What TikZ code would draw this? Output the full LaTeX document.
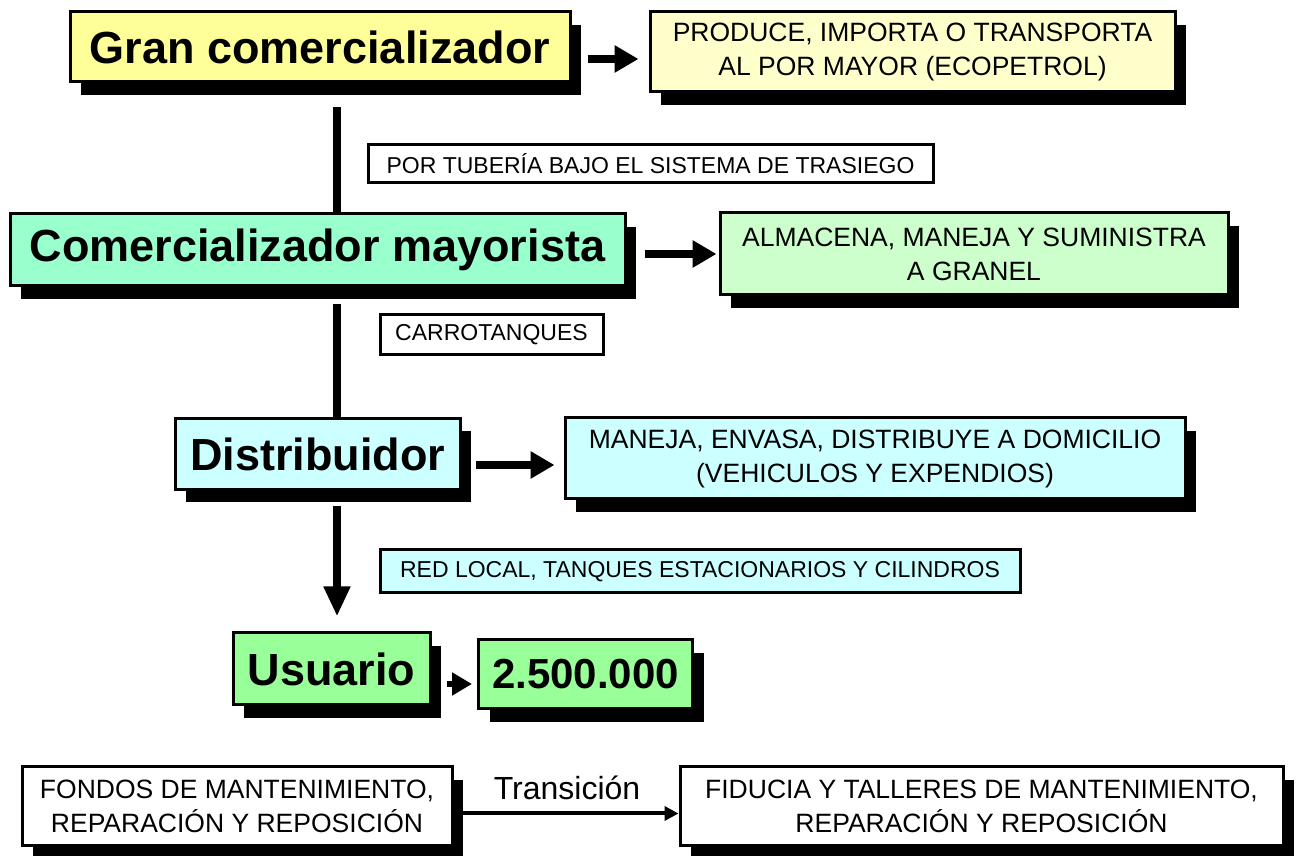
\documentclass[tikz,border=0pt]{standalone}
\usepackage{fontspec}
\setmainfont{Liberation Sans}
\usetikzlibrary{arrows.meta,shadows,calc}
\definecolor{cyellow}{HTML}{FFFF99}
\definecolor{ccream}{HTML}{FFFFCC}
\definecolor{cmint}{HTML}{99FFCC}
\definecolor{cpalegreen}{HTML}{CCFFCC}
\definecolor{ccyan}{HTML}{CCFFFF}
\definecolor{cgreen}{HTML}{99FF99}
\begin{document}
\begin{tikzpicture}[x=1pt,y=1pt,
  box/.style={draw=black, line width=3pt, inner sep=0pt, align=center,
    drop shadow={shadow xshift=11pt, shadow yshift=-13pt, fill=black, opacity=1}},
  big/.style={font=\bfseries\fontsize{45}{50}\selectfont},
  small/.style={font=\fontsize{26.5}{34}\selectfont},
  lab/.style={draw=black, line width=3pt, inner sep=0pt, align=center, font=\fontsize{23}{28}\selectfont},
  vline/.style={line width=8pt},
  fatarrow/.style={line width=8pt, -{Triangle[length=24pt,width=26pt]}},
  thinarrow/.style={line width=4pt, -{Triangle[length=14pt,width=14pt]}},
]
\useasboundingbox (0,0) rectangle (1302,856);
\fill[white] (0,0) rectangle (1302,856);
\coordinate (col) at (337,0);

\node[box, big, fill=cyellow, minimum width=500pt, minimum height=70pt] (gran) at (320,809) {Gran comercializador};
\node[box, small, fill=ccream, minimum width=525pt, minimum height=80pt] (produce) at (912.5,804) {PRODUCE, IMPORTA O TRANSPORTA\\AL POR MAYOR (ECOPETROL)};
\node[lab, fill=white, minimum width=565pt, minimum height=38pt] (tuberia) at (650.5,692) {POR TUBERÍA BAJO EL SISTEMA DE TRASIEGO};

\node[box, big, fill=cmint, minimum width=615pt, minimum height=72pt] (com) at (317.5,606) {Comercializador mayorista};
\node[box, small, fill=cpalegreen, minimum width=508pt, minimum height=82pt] (almacena) at (974,602) {ALMACENA, MANEJA Y SUMINISTRA\\A GRANEL};
\node[lab, fill=white, minimum width=223pt, minimum height=40pt] (carro) at (491.5,521) {CARROTANQUES};

\node[box, big, fill=ccyan, minimum width=285pt, minimum height=71pt] (distr) at (317.5,402) {Distribuidor};
\node[box, small, fill=ccyan, minimum width=620pt, minimum height=81pt] (maneja) at (875,397.5) {MANEJA, ENVASA, DISTRIBUYE A DOMICILIO\\(VEHICULOS Y EXPENDIOS)};
\node[lab, fill=ccyan, minimum width=640pt, minimum height=43pt] (red) at (700,284.5) {RED LOCAL, TANQUES ESTACIONARIOS Y CILINDROS};

\node[box, big, fill=cgreen, minimum width=197pt, minimum height=72pt] (usuario) at (331.5,187) {Usuario};
\node[box, fill=cgreen, font=\bfseries\fontsize{42}{48}\selectfont, minimum width=214pt, minimum height=69pt] (num) at (585.5,181.5) {2.500.000};

\node[box, small, fill=white, minimum width=430pt, minimum height=79pt] (fondos) at (237,49.5) {FONDOS DE MANTENIMIENTO,\\REPARACIÓN Y REPOSICIÓN};
\node[box, small, fill=white, minimum width=603pt, minimum height=79pt] (fiducia) at (981.5,49.5) {FIDUCIA Y TALLERES DE MANTENIMIENTO,\\REPARACIÓN Y REPOSICIÓN};

% vertical connectors
\draw[vline] ($(gran.south -| col)+(0,-24)$) -- (com.north -| col);
\draw[vline] ($(com.south -| col)+(0,-17)$) -- (distr.north -| col);
\draw[line width=8pt, -{Triangle[length=30pt,width=25pt]}] ($(distr.south -| col)+(0,-15)$) -- ($(usuario.north -| col)+(0,15)$);

% horizontal arrows
\coordinate (a1) at ($(gran.east)+(16,-12)$);
\draw[fatarrow] (a1) -- ($(a1 -| produce.west)+(-10,0)$);
\coordinate (a2) at ($(com.east)+(18,-4)$);
\draw[fatarrow] (a2) -- ($(a2 -| almacena.west)+(-2,0)$);
\coordinate (a3) at ($(distr.east)+(14,-11)$);
\draw[fatarrow] (a3) -- ($(a3 -| maneja.west)+(-9,0)$);
\coordinate (a4) at ($(usuario.east)+(15,-15)$);
\draw[line width=6pt, -{Triangle[length=20pt,width=22pt]}] (a4) -- ($(a4 -| num.west)+(-5,0)$);

\coordinate (a5) at ($(fondos.east)+(2,-7)$);
\draw[thinarrow] (a5) -- (a5 -| fiducia.west) node[midway, above=8pt, font=\fontsize{32}{36}\selectfont] (trans) {Transición};
\end{tikzpicture}
\end{document}
